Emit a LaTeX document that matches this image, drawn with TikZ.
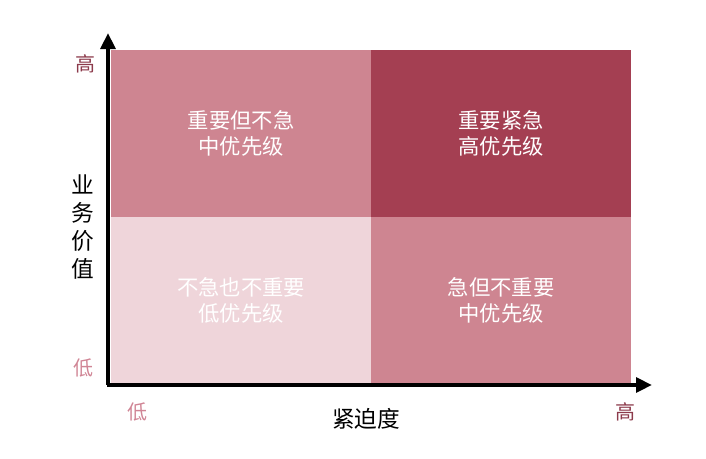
\documentclass[tikz,border=0pt]{standalone}
\usepackage{fontspec}
\setmainfont{Noto Sans CJK SC}
\usetikzlibrary{arrows.meta,positioning}
\definecolor{midrose}{HTML}{CE8591}
\definecolor{deeprose}{HTML}{A43F52}
\definecolor{lightrose}{HTML}{EFD5DA}
\definecolor{hightxt}{HTML}{8C3A4B}
\definecolor{lowtxt}{HTML}{D08595}
\tikzset{
  quad/.style={minimum width=195pt,minimum height=125pt,inner sep=0pt,outer sep=0pt,
    text=white,align=center,font=\fontsize{16}{19.5}\selectfont},
  lvl/.style={font=\fontsize{15}{18}\selectfont}
}
\begin{document}
\begin{tikzpicture}[line cap=butt,line join=miter,x=0.75pt,y=-0.75pt]
                \useasboundingbox (0,0) rectangle (706,458);
                % quadrants
                \node [quad,fill=midrose,anchor=north west] (imp) at (111,50) {重要但不急\\中优先级};
                \node [quad,fill=deeprose,right=0pt of imp] (urgimp) {重要紧急\\高优先级};
                \node [quad,fill=lightrose,below=0pt of imp] (none) {不急也不重要\\低优先级};
                \node [quad,fill=midrose,below=0pt of urgimp] (urg) {急但不重要\\中优先级};
                % axes
                \coordinate (o) at (108,385);
                \coordinate (ytop) at (108,33);
                \coordinate (xend) at (652,385);
                \draw [line width=3pt,-{Triangle[length=12pt,width=11pt]}] (o|-none.south) ++(0,1.5) -- (ytop);
                \draw [line width=3pt,-{Triangle[length=12pt,width=11pt]}] (106.5,385) -- (xend);
                % labels
                \node [lvl,text=hightxt] (yhi) at (85,64) {高};
                \node [lvl,text=lowtxt] (ylo) at (83,368) {低};
                \node [lvl,text=lowtxt] (xlo) at (137,412) {低};
                \node [lvl,text=hightxt] (xhi) at (625,412) {高};
                \node [font=\fontsize{17}{21}\selectfont,align=center] (ylab) at (83,227) {业\\务\\价\\值};
                \node [font=\fontsize{17}{21}\selectfont] (xlab) at (366,419) {紧迫度};
            \end{tikzpicture}
\end{document}
